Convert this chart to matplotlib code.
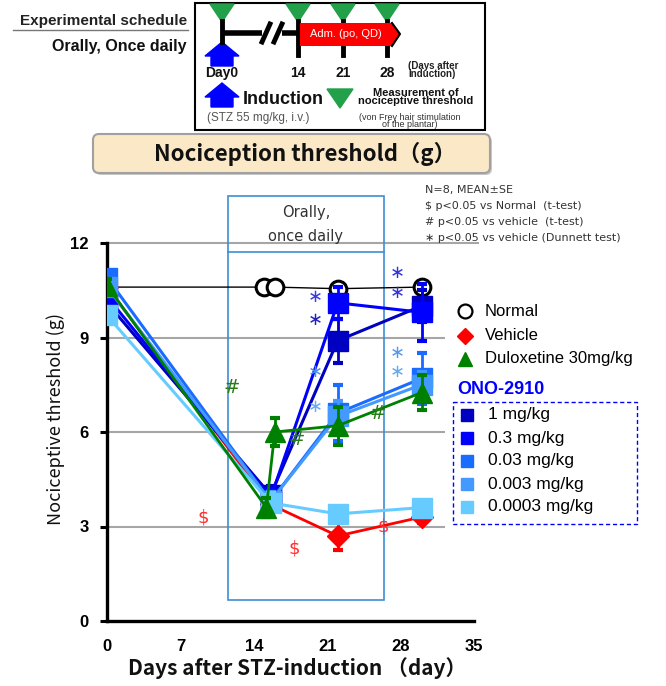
import matplotlib
matplotlib.use('Agg')
import matplotlib.pyplot as plt
from matplotlib.patches import Rectangle, FancyBboxPatch, Polygon

W, H = 666, 686
fig = plt.figure(figsize=(W / 100, H / 100), dpi=100)

# ---------------- data ----------------
days_normal = [0, 15, 16, 22, 30]
normal_mean = [10.6, 10.6, 10.6, 10.55, 10.6]
normal_se = [0.15, 0.2, 0.2, 0.2, 0.2]

days_vehicle = [0, 15.6, 22, 30]
vehicle_mean = [10.6, 3.7, 2.7, 3.3]
vehicle_se = [0.2, 0.2, 0.45, 0.2]

days_dlx = [0, 15.2, 16, 22, 30]
dlx_mean = [10.65, 3.6, 6.0, 6.2, 7.25]
dlx_se = [0.2, 0.3, 0.45, 0.6, 0.55]

days_ono = [0, 15.6, 22, 30]
ono_1 = [10.1, 4.0, 8.9, 10.0]
ono_1_se = [0.2, 0.3, 0.7, 0.5]
ono_03 = [10.3, 3.9, 10.1, 9.8]
ono_03_se = [0.2, 0.3, 0.5, 0.9]
ono_003 = [10.9, 3.8, 6.6, 7.7]
ono_003_se = [0.2, 0.3, 0.9, 0.8]
ono_0003 = [10.6, 3.8, 6.5, 7.5]
ono_0003_se = [0.2, 0.3, 0.5, 0.4]
ono_00003 = [9.7, 3.75, 3.4, 3.6]
ono_00003_se = [0.2, 0.3, 0.2, 0.2]

ono_labels = ['1 mg/kg', '0.3 mg/kg', '0.03 mg/kg', '0.003 mg/kg', '0.0003 mg/kg']
ono_colors = ['#0000C0', '#0000FF', '#1A6BFF', '#4499FF', '#66CCFF']

x_ticks = [0, 7, 14, 21, 28, 35]
y_ticks = [0, 3, 6, 9, 12]

# significance marks (day, value, color)
star_x = [19.9, 19.9, 19.9, 19.9, 27.7, 27.7, 27.7, 27.7]
star_y = [10.3, 9.55, 7.9, 6.8, 11.05, 10.4, 8.5, 7.9]
star_c = ['#3A3AE0', '#2020C0', '#4A90E8', '#66AAFF', '#3333DD', '#3333DD', '#5599EE', '#66AAEE']
hash_x = [11.9, 18.1, 25.8]
hash_y = [7.4, 5.75, 6.6]
dollar_x = [9.2, 17.9, 26.3]
dollar_y = [3.27, 2.3, 3.0]

CJK = ['Noto Sans CJK JP', 'DejaVu Sans']
ARIAL = ['Liberation Sans', 'DejaVu Sans']

# ---------------- main axes ----------------
ax = fig.add_axes([107 / W, (H - 621) / H, 367 / W, 378 / H])
ax.set_xlim(0, 35)
ax.set_ylim(0, 12)
for s in ['top', 'right']:
    ax.spines[s].set_visible(False)
for s in ['left', 'bottom']:
    ax.spines[s].set_linewidth(2.4)
ax.set_xticks(x_ticks)
ax.set_yticks(y_ticks)
ax.tick_params(axis='x', length=0, pad=13)
ax.tick_params(axis='y', length=5, width=2.2, pad=8)
for lab in ax.get_xticklabels() + ax.get_yticklabels():
    lab.set_fontfamily(ARIAL)
    lab.set_fontweight('bold')
    lab.set_fontsize(12)

# grid lines
ax.hlines([3, 6, 9], 0, 32.2, color='#A6A6A6', lw=1.5, zorder=1)
ax.hlines([12], 0, 35.5, color='#A6A6A6', lw=1.5, zorder=1, clip_on=False)

# dosing box
ax.add_patch(Rectangle((11.5, 0.67), 14.9, 12.83, fill=False, ec='#3C8FD6',
                       lw=1.2, clip_on=False, zorder=1))
ax.plot([11.5, 26.4], [11.7, 11.7], color='#3C8FD6', lw=1.2, clip_on=False, zorder=1)

ebkw = dict(capsize=3.5, capthick=3, elinewidth=2)

# normal
ax.errorbar(days_normal, normal_mean, yerr=normal_se, color='black', lw=1,
             marker='o', ms=12, mfc='white', mec='black', mew=2.2, zorder=3,
             ecolor='black', **ebkw)
# vehicle
ax.errorbar(days_vehicle, vehicle_mean, yerr=vehicle_se, color='#FF0000', lw=2,
             marker='D', ms=11, mfc='#FF0000', mec='#FF0000', zorder=4, **ebkw)
# ONO-2910
ono_data = [ono_1, ono_03, ono_003, ono_0003, ono_00003]
ono_err = [ono_1_se, ono_03_se, ono_003_se, ono_0003_se, ono_00003_se]
for i, (vals, err, col) in enumerate(zip(ono_data, ono_err, ono_colors)):
    ax.errorbar(days_ono, vals, yerr=err, color=col, lw=2.2, marker='s', ms=14,
                 mfc=col, mec=col, zorder=5 + i, **ebkw)
# duloxetine
ax.errorbar(days_dlx, dlx_mean, yerr=dlx_se, color='#008000', lw=2, marker='^',
             ms=14, mfc='#008000', mec='#008000', zorder=11, **ebkw)

for x, y, c in zip(star_x, star_y, star_c):
    ax.text(x, y, '\u2217', color=c, fontsize=13, ha='center', va='center',
            family='DejaVu Sans', zorder=12)
for x, y in zip(hash_x, hash_y):
    ax.text(x, y, '#', color='#2A7A1A', fontsize=14, ha='center', va='center',
            family='DejaVu Sans', zorder=12)
for x, y in zip(dollar_x, dollar_y):
    ax.text(x, y, '$', color='#FF3030', fontsize=13, ha='center', va='center',
            family='DejaVu Sans', zorder=12)

# ---------------- overlay (pixel coords) ----------------
ov = fig.add_axes([0, 0, 1, 1], zorder=5)
ov.set_xlim(0, W)
ov.set_ylim(H, 0)
ov.axis('off')

# axis labels
ov.text(56, 419, 'Nociceptive threshold (g)', rotation=90, ha='center', va='center',
        fontsize=13, family=CJK, color='#111111')
ov.text(297, 668, 'Days after STZ-induction \uff08day\uff09', ha='center', va='center',
        fontsize=15, fontweight='bold', family=CJK, color='#111111')

# title box
ov.add_patch(FancyBboxPatch((95, 136), 397, 39, boxstyle='round,pad=0,rounding_size=6',
                            fc='#C8C8C8', ec='none', lw=0))
ov.add_patch(FancyBboxPatch((93, 134), 397, 39, boxstyle='round,pad=0,rounding_size=6',
                            fc='#FAE8C6', ec='#A0A0A0', lw=1.5))
ov.text(305, 154, 'Nociception threshold\uff08g\uff09', ha='center', va='center',
        fontsize=16, fontweight='bold', family=CJK, color='#111111')

# stats notes
notes = ['N=8, MEAN\u00b1SE', '$ p<0.05 vs Normal  (t-test)',
         '# p<0.05 vs vehicle  (t-test)', '\u2217 p<0.05 vs vehicle (Dunnett test)']
for i, t in enumerate(notes):
    ov.text(425, 190 + 16 * i, t, ha='left', va='center', fontsize=8,
            family='DejaVu Sans', color='#333333')

# dosing box text
ov.text(306, 212, 'Orally,', ha='center', va='center', fontsize=10.5,
        family='DejaVu Sans', color='#333333')
ov.text(306, 236, 'once daily', ha='center', va='center', fontsize=10.5,
        family='DejaVu Sans', color='#333333')

# legend
ov.plot([465], [311], marker='o', ms=10, mfc='white', mec='black', mew=1.6, ls='none')
ov.text(485, 311, 'Normal', ha='left', va='center', fontsize=12, family=ARIAL)
ov.plot([465], [336], marker='D', ms=8, color='#FF0000', ls='none')
ov.text(485, 336, 'Vehicle', ha='left', va='center', fontsize=12, family=ARIAL)
ov.plot([465], [359], marker='^', ms=10, color='#008000', ls='none')
ov.text(485, 359, 'Duloxetine 30mg/kg', ha='left', va='center', fontsize=12, family=ARIAL)
ov.text(457, 390, 'ONO-2910', ha='left', va='center', fontsize=13, fontweight='bold',
        family=ARIAL, color='#0000FF')
ov.add_patch(Rectangle((453, 402), 184, 122, fill=False, ec='#0000FF', lw=1, ls=(0, (3, 2))))
for i, (lab, col) in enumerate(zip(ono_labels, ono_colors)):
    y = 415 + 23 * i
    ov.plot([467], [y], marker='s', ms=8, color=col, ls='none')
    ov.text(488, y, lab, ha='left', va='center', fontsize=12.5, family=ARIAL)

# ---------------- schedule schematic ----------------
ov.add_patch(Rectangle((195, 3), 290, 127, fill=False, ec='black', lw=1.5))
ov.text(187, 21, 'Experimental schedule', ha='right', va='center', fontsize=11,
        fontweight='bold', family=ARIAL, color='#222222')
ov.plot([13, 188], [30, 30], color='#777777', lw=1)
ov.text(187, 47, 'Orally, Once daily', ha='right', va='center', fontsize=11.5,
        fontweight='bold', family=ARIAL, color='#111111')

green = '#22A04A'
for x in [222, 298, 343, 387]:
    ov.add_patch(Polygon([[x - 12, 4], [x + 12, 4], [x, 22]], closed=True, color=green))
# timeline
ov.plot([222, 262], [33, 33], color='black', lw=4, solid_capstyle='butt')
ov.plot([282, 300], [33, 33], color='black', lw=4, solid_capstyle='butt')
ov.plot([262, 270], [42, 24], color='black', lw=3.5)
ov.plot([274, 282], [42, 24], color='black', lw=3.5)
ov.plot([222, 222], [21, 42], color='black', lw=3.5)
for x in [298, 343, 387]:
    ov.plot([x, x], [21, 55], color='black', lw=3.5)
ov.add_patch(Polygon([[300, 23], [392, 23], [400, 34], [392, 46], [300, 46]],
                     closed=True, fc='#FF0000', ec='none', zorder=3))
ov.plot([392, 400, 392], [23, 34, 46], color='black', lw=1.5, zorder=4)
ov.text(346, 34, 'Adm. (po, QD)', ha='center', va='center', fontsize=8,
        color='white', family=ARIAL, zorder=5)
# blue arrows
for top in [42, 83]:
    ov.add_patch(Polygon([[222, top], [239, top + 14], [233, top + 14], [233, top + 24],
                          [211, top + 24], [211, top + 14], [205, top + 14]],
                         closed=True, color='#0000FF'))
ov.text(222, 73, 'Day0', ha='center', va='center', fontsize=10, fontweight='bold',
        family=ARIAL, color='#111111')
for x, t in zip([298, 343, 387], ['14', '21', '28']):
    ov.text(x, 73, t, ha='center', va='center', fontsize=10, fontweight='bold',
            family=ARIAL, color='#111111')
ov.text(408, 70, '(Days after\ninduction)', ha='left', va='center', fontsize=7,
        fontweight='bold', family=ARIAL, color='#222222', linespacing=0.85)
ov.text(243, 99, 'Induction', ha='left', va='center', fontsize=13, fontweight='bold',
        family=ARIAL, color='#111111')
ov.text(207, 118, '(STZ 55 mg/kg, i.v.)', ha='left', va='center', fontsize=8.5,
        family=ARIAL, color='#555555')
ov.add_patch(Polygon([[327, 89], [353, 89], [340, 108]], closed=True, color=green))
ov.text(416, 97, 'Measurement of\nnociceptive threshold', ha='center', va='center',
        fontsize=8, fontweight='bold', family=ARIAL, color='#111111', linespacing=0.8)
ov.text(410, 121, '(von Frey hair stimulation\nof the plantar)', ha='center', va='center',
        fontsize=6.5, family=ARIAL, color='#333333', linespacing=0.8)

fig.savefig('out.png', dpi=100)
